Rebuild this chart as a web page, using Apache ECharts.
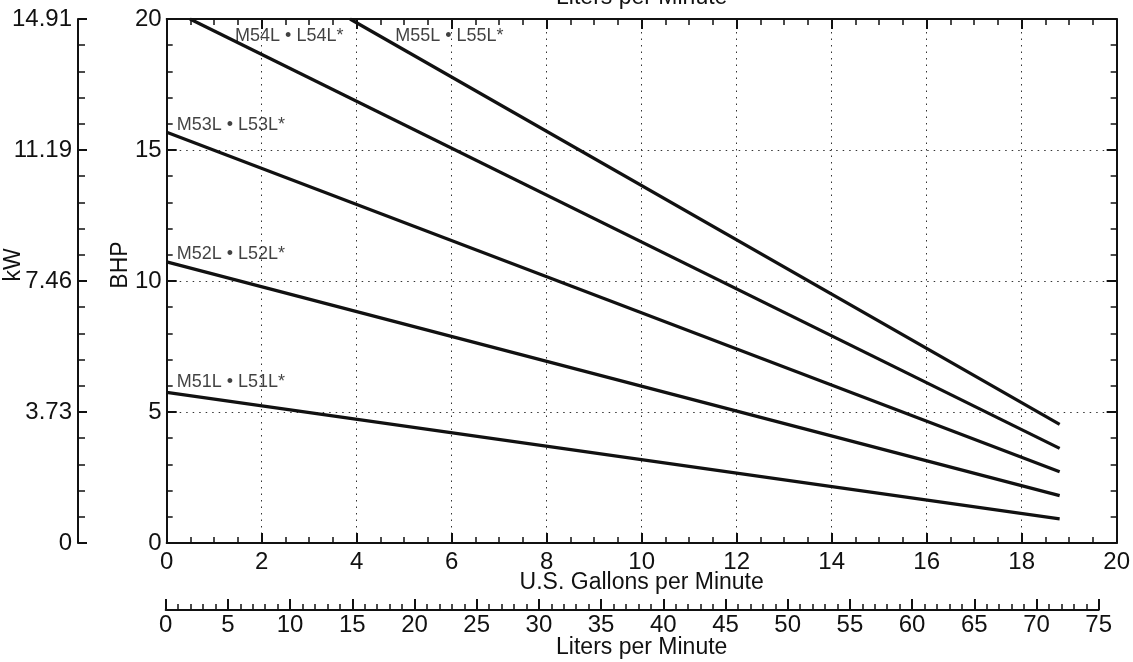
<!DOCTYPE html>
<html>
<head>
    <meta charset="utf-8">
    <script src="https://cdn.jsdelivr.net/npm/echarts@6/dist/echarts.min.js"></script>
</head>
<body style="margin:0;background:#fff;">
    <div id="container" style="width:1133px;height:662px;"></div>
    <script type="text/javascript">
        // pump curves, BHP vs US gallons per minute
        var seriesNames = ['M51L', 'M52L', 'M53L', 'M54L', 'M55L'];
        var m51 = [[0, 5.75], [18.8, 0.92]];
        var m52 = [[0, 10.73], [18.8, 1.81]];
        var m53 = [[0, 15.68], [18.8, 2.72]];
        var m54 = [[0.49, 20], [18.8, 3.61]];
        var m55 = [[3.86, 20], [18.8, 4.53]];
        var curveLabels = ['M51L \u2022 L51L*', 'M52L \u2022 L52L*', 'M53L \u2022 L53L*', 'M54L \u2022 L54L*', 'M55L \u2022 L55L*'];
        var curveLabelPos = [[0.21, 6.16], [0.21, 11.03], [0.21, 15.95], [1.44, 19.35], [4.81, 19.35]];
        var kwLabels = ['0', '3.73', '7.46', '11.19', '14.91'];

        var font = 'Liberation Sans';
        var ink = '#111';
        var dom = document.getElementById('container');
        var myChart = echarts.init(dom);

        var lineData = [m51, m52, m53, m54, m55];
        var series = [];
        for (var i = 0; i < lineData.length; i++) {
            series.push({
                name: seriesNames[i],
                type: 'line',
                xAxisIndex: 0,
                yAxisIndex: 0,
                data: lineData[i],
                symbol: 'none',
                silent: true,
                lineStyle: { color: ink, width: 3.2 }
            });
        }
        var labelData = [];
        for (var j = 0; j < curveLabels.length; j++) {
            labelData.push([curveLabelPos[j][0], curveLabelPos[j][1], curveLabels[j]]);
        }
        series.push({
            type: 'scatter',
            xAxisIndex: 0,
            yAxisIndex: 0,
            symbolSize: 0,
            silent: true,
            data: labelData,
            label: {
                show: true,
                position: 'right',
                distance: 0,
                color: ink,
                fontFamily: font,
                fontSize: 18,
                formatter: function (p) { return p.data[2]; }
            }
        });

        var frameAxis = function (extra) {
            var base = {
                type: 'value',
                axisLine: { show: true, onZero: false, lineStyle: { color: ink, width: 2 } },
                axisTick: { show: true, inside: true, length: 10, lineStyle: { color: ink, width: 2 } },
                minorTick: { show: true, length: 6, lineStyle: { color: ink, width: 1.5 } },
                axisLabel: { color: ink, fontFamily: font, fontSize: 24 },
                splitLine: { show: false }
            };
            return Object.assign(base, extra);
        };

        var option = {
            animation: false,
            grid: [
                { left: 166.7, top: 19, right: 16.3, bottom: 119 },
                { left: 165.7, top: 600, width: 933, height: 10 }
            ],
            graphic: [
                { type: 'text', x: 641.7, y: -2, style: { text: 'Liters per Minute', fontFamily: font, fontSize: 23, fill: ink, textAlign: 'center', textVerticalAlign: 'middle' } },
                { type: 'text', x: 641.7, y: 583, style: { text: 'U.S. Gallons per Minute', fontFamily: font, fontSize: 23, fill: ink, textAlign: 'center', textVerticalAlign: 'middle' } },
                { type: 'text', x: 641.7, y: 648, style: { text: 'Liters per Minute', fontFamily: font, fontSize: 23, fill: ink, textAlign: 'center', textVerticalAlign: 'middle' } },
                { type: 'text', x: 121, y: 265, rotation: Math.PI / 2, style: { text: 'BHP', fontFamily: font, fontSize: 23, fill: ink, textAlign: 'center', textVerticalAlign: 'middle' } },
                { type: 'text', x: 14, y: 265, rotation: Math.PI / 2, style: { text: 'kW', fontFamily: font, fontSize: 23, fill: ink, textAlign: 'center', textVerticalAlign: 'middle' } }
            ],
            xAxis: [
                frameAxis({
                    gridIndex: 0, position: 'bottom', min: 0, max: 20, interval: 2,
                    minorTick: { show: true, splitNumber: 4, length: 6, lineStyle: { color: ink, width: 1.5 } },
                    axisLabel: { color: ink, fontFamily: font, fontSize: 24, margin: 7 },
                    splitLine: { show: true, lineStyle: { color: '#333', width: 1, type: [1.5, 5] } }
                }),
                frameAxis({
                    gridIndex: 0, position: 'top', min: 0, max: 20, interval: 2,
                    minorTick: { show: true, splitNumber: 4, length: 6, lineStyle: { color: ink, width: 1.5 } },
                    axisLabel: { show: false }
                }),
                frameAxis({
                    gridIndex: 1, position: 'bottom', min: 0, max: 75, interval: 5,
                    axisTick: { show: true, inside: true, length: 11, lineStyle: { color: ink, width: 2 } },
                    minorTick: { show: true, splitNumber: 5, length: 6, lineStyle: { color: ink, width: 1.5 } },
                    axisLabel: { color: ink, fontFamily: font, fontSize: 24, margin: 3 }
                })
            ],
            yAxis: [
                frameAxis({
                    gridIndex: 0, position: 'left', min: 0, max: 20, interval: 5,
                    minorTick: { show: true, splitNumber: 5, length: 6, lineStyle: { color: ink, width: 1.5 } },
                    axisLabel: { color: ink, fontFamily: font, fontSize: 24, margin: 5 },
                    splitLine: { show: true, lineStyle: { color: '#333', width: 1, type: [1.5, 5] } }
                }),
                frameAxis({
                    gridIndex: 0, position: 'right', min: 0, max: 20, interval: 5,
                    minorTick: { show: true, splitNumber: 5, length: 6, lineStyle: { color: ink, width: 1.5 } },
                    axisLabel: { show: false }
                }),
                frameAxis({
                    gridIndex: 0, position: 'left', offset: 88.7, min: 0, max: 20, interval: 5,
                    axisTick: { show: true, inside: true, length: 9, lineStyle: { color: ink, width: 2 } },
                    minorTick: { show: true, splitNumber: 5, length: 7, lineStyle: { color: ink, width: 1.5 } },
                    axisLabel: {
                        color: ink, fontFamily: font, fontSize: 24, margin: 6,
                        formatter: function (v) { return kwLabels[Math.round(v / 5)]; }
                    }
                }),
                { gridIndex: 1, type: 'value', show: false, min: 0, max: 1 }
            ],
            series: series
        };
        myChart.setOption(option);
    </script>
</body>
</html>
